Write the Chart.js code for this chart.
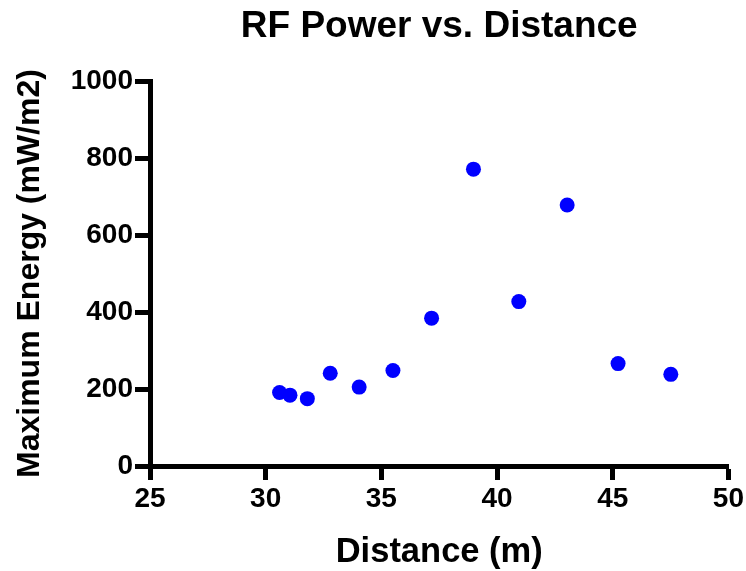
<!DOCTYPE html>
<html>
<head>
<meta charset="utf-8">
<script src="https://cdn.jsdelivr.net/npm/chart.js@4"></script>
<style>
  html, body { margin: 0; padding: 0; background: #fff; }
  canvas { display: block; }
</style>
</head>
<body>
<canvas id="c" width="746" height="571"></canvas>
<script>
const distance = [30.60, 31.05, 31.80, 32.79, 34.04, 35.50, 37.17, 38.98, 40.94, 43.03, 45.23, 47.51];
const energy   = [191, 184, 175, 241, 205, 248, 384, 771, 427, 678, 266, 238];
const xTicks = [25, 30, 35, 40, 45, 50];
const yTicks = [0, 200, 400, 600, 800, 1000];

const points = distance.map((d, i) => ({ x: d, y: energy[i] }));
const FONT = "'Liberation Sans', Arial, Helvetica, sans-serif";

new Chart(document.getElementById('c'), {
  type: 'scatter',
  data: {
    datasets: [{
      data: points,
      backgroundColor: '#0000FF',
      borderWidth: 0,
      pointRadius: 7.5,
      pointHoverRadius: 7.5
    }]
  },
  options: {
    responsive: false,
    animation: false,
    layout: { padding: { left: 0, right: 16, top: 0, bottom: 0 } },
    plugins: {
      legend: { display: false },
      tooltip: { enabled: false },
      title: {
        display: true,
        fullSize: false,
        text: 'RF Power vs. Distance',
        color: '#000',
        font: { family: FONT, size: 37, weight: 'bold', lineHeight: 1.2 },
        padding: { top: 4.8, bottom: 31.8 }
      }
    },
    scales: {
      x: {
        type: 'linear',
        min: xTicks[0],
        max: xTicks[xTicks.length - 1],
        afterBuildTicks: s => { s.ticks = xTicks.map(v => ({ value: v })); },
        afterFit: s => { s.height = 105; },
        border: { display: true, color: '#000', width: 5 },
        grid: { drawOnChartArea: false, drawTicks: true, tickLength: 14, tickWidth: 5, tickColor: '#000' },
        ticks: {
          color: '#000', padding: 2, maxRotation: 0,
          font: { family: FONT, size: 28, weight: 'bold' },
          callback: v => String(v)
        },
        title: {
          display: true,
          text: 'Distance (m)',
          color: '#000',
          font: { family: FONT, size: 34.5, weight: 'bold', lineHeight: 1.0 },
          padding: { top: 0, bottom: 1 }
        }
      },
      y: {
        type: 'linear',
        min: yTicks[0],
        max: yTicks[yTicks.length - 1],
        afterBuildTicks: s => { s.ticks = yTicks.map(v => ({ value: v })); },
        afterFit: s => { s.width = 150; },
        border: { display: true, color: '#000', width: 5 },
        grid: { drawOnChartArea: false, drawTicks: true, tickLength: 15, tickWidth: 5, tickColor: '#000' },
        ticks: {
          color: '#000', padding: 2,
          font: { family: FONT, size: 28, weight: 'bold' },
          callback: v => String(v)
        },
        title: {
          display: true,
          text: 'Maximum Energy (mW/m2)',
          color: '#000',
          font: { family: FONT, size: 32, weight: 'bold', lineHeight: 1.2 },
          padding: { top: 11, bottom: 0 }
        }
      }
    }
  }
});
</script>
</body>
</html>
